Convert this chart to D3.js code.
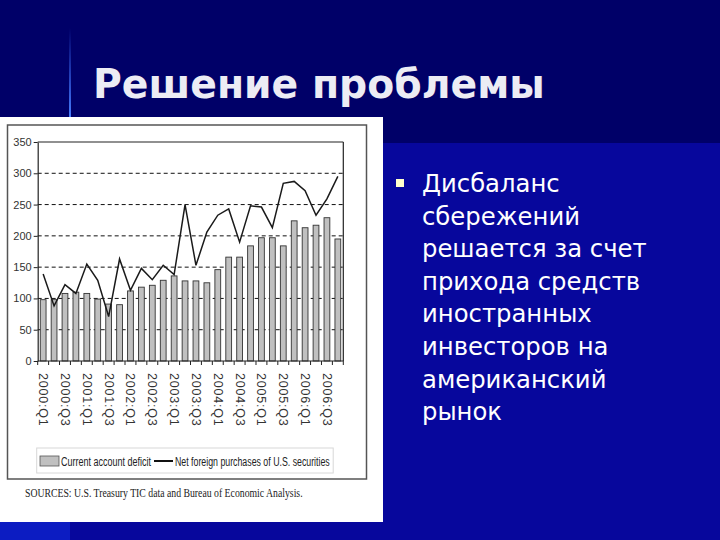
<!DOCTYPE html>
<html><head><meta charset="utf-8">
<script src="https://cdn.jsdelivr.net/npm/d3@7"></script>
<style>html,body{margin:0;padding:0;background:#000068;overflow:hidden}</style>
</head><body>
<svg id="c" width="720" height="540"></svg>
<script>
const categories = [];
const years = [2000,2001,2002,2003,2004,2005,2006];
years.forEach(y => [1,2,3,4].forEach(q => categories.push(y + ":Q" + q)));
const deficit = [98,98,108,110,108,99,91,90,112,118,121,129,136,128,128,125,146,166,166,184,197,197,184,224,213,217,229,195];
const netPurchases = [139,88,122,108,155,129,71,163,113,148,130,153,138,250,153,206,233,243,190,248,246,213,284,287,272,233,259,295];
const yTicks = [0,50,100,150,200,250,300,350];
const gridTicks = [50,100,150,200,250,300];
const xLabelCats = categories.filter((c,i) => i % 2 === 0);
const titleText = "Решение проблемы";
const bulletLines = ["Дисбаланс","сбережений","решается за счет","прихода средств","иностранных","инвесторов на","американский","рынок"];
const legendLabels = ["Current account deficit","Net foreign purchases of U.S. securities"];
const sourceText = "SOURCES: U.S. Treasury TIC data and Bureau of Economic Analysis.";

const svg = d3.select("#c");
const defs = svg.append("defs");
const vg = defs.append("linearGradient").attr("id","vline").attr("x1",0).attr("x2",0).attr("y1",0).attr("y2",1);
vg.append("stop").attr("offset","0%").attr("stop-color","#3a6cff").attr("stop-opacity",0);
vg.append("stop").attr("offset","100%").attr("stop-color","#4a80ff").attr("stop-opacity",1);

// background
svg.append("rect").attr("x",0).attr("y",0).attr("width",720).attr("height",540).attr("fill","#000068");
svg.append("rect").attr("x",0).attr("y",143).attr("width",720).attr("height",397).attr("fill","#07079c");
svg.append("rect").attr("x",0).attr("y",522).attr("width",70).attr("height",18).attr("fill","#0c1cc2");
svg.append("rect").attr("x",69).attr("y",28).attr("width",2).attr("height",90).attr("fill","url(#vline)");

// helper: text squeezed horizontally to a target width
function squeezed(parent, str, tx, ty, width, attrs) {
  const gg = parent.append("g");
  const t = gg.append("text").attr("x",0).attr("y",0).text(str);
  Object.entries(attrs).forEach(([k,v]) => t.attr(k,v));
  const w = t.node().getComputedTextLength();
  gg.attr("transform",`translate(${tx},${ty}) scale(${width/w},1)`);
  return t;
}

// title
squeezed(svg, titleText, 93, 98, 452, {"font-family":"DejaVu Sans","font-weight":"bold","font-size":41,"fill":"#ececf4"});

// bullet
svg.append("rect").attr("x",396).attr("y",179).attr("width",8).attr("height",8).attr("fill","#ffffcc");
svg.append("g").selectAll("text").data(bulletLines).join("text")
  .attr("x",422).attr("y",(d,i)=>192 + i*32.6).text(d=>d)
  .attr("font-family","DejaVu Sans").attr("font-size",24.3).attr("fill","#ffffff");

// chart panel
svg.append("rect").attr("x",0).attr("y",117).attr("width",383).attr("height",405).attr("fill","#ffffff");
svg.append("rect").attr("x",7.5).attr("y",125).attr("width",359).attr("height",354)
  .attr("fill","none").attr("stroke","#555").attr("stroke-width",1.5);

const x0 = 37.7, x1 = 343.3, yb = 361, yt = 142;
const x = d3.scaleBand().domain(categories).range([x0,x1]).paddingInner(0.47).paddingOuter(0.235);
const y = d3.scaleLinear().domain([0,350]).range([yb,yt]);
const g = svg.append("g");

// grid
g.selectAll("line.grid").data(gridTicks).join("line").attr("class","grid")
  .attr("x1",x0).attr("x2",x1).attr("y1",d=>y(d)).attr("y2",d=>y(d))
  .attr("stroke","#111").attr("stroke-width",1).attr("stroke-dasharray","4,3");
// top and right frame
g.append("line").attr("x1",x0).attr("x2",x1).attr("y1",y(350)).attr("y2",y(350)).attr("stroke","#222").attr("stroke-width",1.2);
g.append("line").attr("x1",x1).attr("x2",x1).attr("y1",y(350)).attr("y2",y(0)).attr("stroke","#222").attr("stroke-width",1.2);

// bars
g.selectAll("rect.bar").data(deficit).join("rect").attr("class","bar")
  .attr("x",(d,i)=>x(categories[i])).attr("width",x.bandwidth())
  .attr("y",d=>y(d)).attr("height",d=>y(0)-y(d))
  .attr("fill","#c0c0c0").attr("stroke","#333").attr("stroke-width",0.9);

// line
const line = d3.line().x((d,i)=>x(categories[i])+x.bandwidth()/2).y(d=>y(d));
g.append("path").datum(netPurchases).attr("d",line).attr("fill","none")
  .attr("stroke","#1a1a1a").attr("stroke-width",1.5).attr("stroke-linejoin","miter");

// y axis
const yAxis = g.append("g").attr("transform",`translate(${x0},0)`)
  .call(d3.axisLeft(y).tickValues(yTicks).tickSize(4).tickSizeOuter(0).tickPadding(2));
yAxis.select(".domain").attr("stroke","#222").attr("stroke-width",1.2);
yAxis.selectAll(".tick line").attr("stroke","#222");
yAxis.selectAll("text").attr("font-family","'Liberation Sans Narrow','Liberation Sans',sans-serif")
  .attr("font-size",11).attr("fill","#333");

// x axis with ticks at band boundaries
const step = x.step();
const boundaries = d3.range(categories.length+1).map(i => x0 + i*step);
g.append("line").attr("x1",x0).attr("x2",x1).attr("y1",yb).attr("y2",yb).attr("stroke","#222").attr("stroke-width",1.2);
g.selectAll("line.xt").data(boundaries).join("line").attr("class","xt")
  .attr("x1",d=>d).attr("x2",d=>d).attr("y1",yb).attr("y2",yb+4).attr("stroke","#222");
g.selectAll("text.xl").data(xLabelCats).join("text").attr("class","xl")
  .attr("transform",d=>`translate(${x(d)+x.bandwidth()/2},373) rotate(90)`)
  .attr("dominant-baseline","central").text(d=>d)
  .attr("font-family","'Liberation Sans',sans-serif").attr("font-size",12.5)
  .attr("letter-spacing",0.8).attr("fill","#333");

// legend
svg.append("rect").attr("x",36.7).attr("y",448).attr("width",296.5).attr("height",25)
  .attr("fill","#fff").attr("stroke","#d8d8d8").attr("stroke-width",1);
svg.append("rect").attr("x",40).attr("y",456).attr("width",19).attr("height",10)
  .attr("fill","#c0c0c0").attr("stroke","#555").attr("stroke-width",0.8);
const legAttrs = {"font-family":"'Liberation Sans',sans-serif","font-size":13.5,"fill":"#222"};
squeezed(svg, legendLabels[0], 61, 465.5, 90, legAttrs);
svg.append("line").attr("x1",154).attr("x2",173).attr("y1",461).attr("y2",461).attr("stroke","#111").attr("stroke-width",2);
squeezed(svg, legendLabels[1], 175, 465.5, 155, legAttrs);

// sources
squeezed(svg, sourceText, 25, 497, 278, {"font-family":"'Liberation Serif',serif","font-size":12,"fill":"#222"});
</script>
</body></html>
